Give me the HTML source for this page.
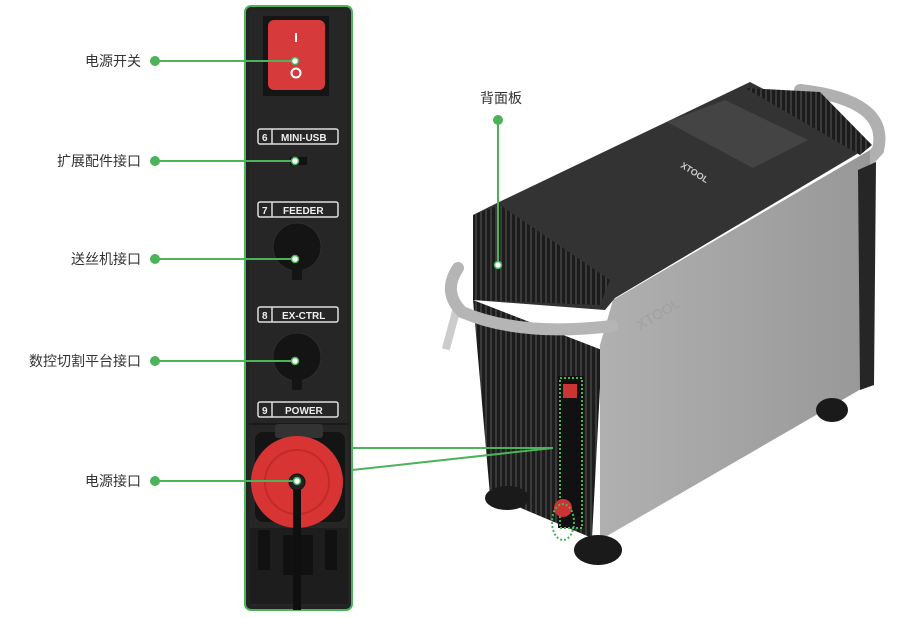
<!DOCTYPE html>
<html><head><meta charset="utf-8"><style>
html,body{margin:0;padding:0;background:#fff;width:898px;height:618px;overflow:hidden}
svg text{font-family:"Liberation Sans","Noto Sans CJK SC",sans-serif;}
</style></head><body>
<svg width="898" height="618" viewBox="0 0 898 618" xmlns="http://www.w3.org/2000/svg">
<defs>
<pattern id="fins" width="5" height="10" patternUnits="userSpaceOnUse">
<rect width="5" height="10" fill="#1c1c1c"/><rect width="2" height="10" fill="#3a3a3a"/>
</pattern>
<linearGradient id="gb" x1="0" y1="0" x2="1" y2="0"><stop offset="0" stop-color="#b0b0b0"/><stop offset="1" stop-color="#989898"/></linearGradient>
</defs>
<!-- left panel -->
<rect x="245" y="6" width="107" height="604" rx="6" fill="#232323" stroke="#4cb35a" stroke-width="2"/>
<rect x="249" y="10" width="99" height="596" rx="4" fill="#262626"/>
<rect x="263" y="16" width="66" height="80" fill="#151515"/>
<rect x="268" y="20" width="57" height="70" rx="6" fill="#d63a3a"/>
<rect x="295" y="33" width="2" height="9" fill="#fff"/>
<circle cx="296" cy="73" r="4.5" fill="none" stroke="#fff" stroke-width="2"/>
<g fill="none" stroke="#ddd" stroke-width="1.5">
<rect x="258" y="129" width="80" height="15" rx="2"/><line x1="272" y1="129" x2="272" y2="144"/>
<rect x="258" y="202" width="80" height="15" rx="2"/><line x1="272" y1="202" x2="272" y2="217"/>
<rect x="258" y="307" width="80" height="15" rx="2"/><line x1="272" y1="307" x2="272" y2="322"/>
<rect x="258" y="402" width="80" height="15" rx="2"/><line x1="272" y1="402" x2="272" y2="417"/>
</g>
<g fill="#eee" font-size="10" font-weight="bold">
<text x="262" y="141">6</text><text x="281" y="141">MINI-USB</text>
<text x="262" y="214">7</text><text x="283" y="214">FEEDER</text>
<text x="262" y="319">8</text><text x="282" y="319">EX-CTRL</text>
<text x="262" y="414">9</text><text x="285" y="414">POWER</text>
</g>
<rect x="290" y="157" width="17" height="8" fill="#111"/>
<circle cx="297" cy="247" r="24" fill="#141414" stroke="#2e2e2e"/>
<rect x="292" y="265" width="10" height="15" rx="2" fill="#141414"/>
<circle cx="297" cy="357" r="24" fill="#141414" stroke="#2e2e2e"/>
<rect x="292" y="375" width="10" height="15" rx="2" fill="#141414"/>
<rect x="249" y="423" width="99" height="2" fill="#1a1a1a"/>
<rect x="255" y="432" width="90" height="90" rx="8" fill="#141414"/>
<rect x="275" y="424" width="48" height="14" rx="3" fill="#333"/>
<circle cx="297" cy="482" r="46" fill="#d93434"/>
<circle cx="297" cy="482" r="32" fill="none" stroke="#c02a2a" stroke-width="2"/>
<rect x="250" y="528" width="98" height="76" fill="#1d1d1d"/>
<g fill="#111"><rect x="258" y="530" width="12" height="40"/><rect x="325" y="530" width="12" height="40"/><rect x="283" y="535" width="30" height="40"/></g>
<rect x="293" y="482" width="8" height="128" fill="#0f0f0f"/>
<circle cx="297" cy="482" r="8" fill="#222" stroke="#111"/>
<!-- machine -->
<path d="M800,90 Q890,100 878,150 L860,170" fill="none" stroke="#b0b0b0" stroke-width="12" stroke-linecap="round"/>
<rect x="447" y="310" width="8" height="40" fill="#ccc" transform="rotate(15 451 330)"/>
<polygon points="473,300 602,350 592,538 490,495" fill="url(#fins)"/>
<polygon points="600,345 613,300 870,150 868,385 600,540" fill="url(#gb)"/>
<polygon points="858,170 876,162 874,385 860,390" fill="#262626"/>
<polygon points="473,215 497,203 750,82 872,145 615,298 605,310 473,300" fill="#333"/>
<polygon points="473,215 500,205 610,280 600,305 473,300" fill="url(#fins)"/>
<polygon points="745,88 820,92 872,145 860,155 800,120" fill="url(#fins)"/>
<polygon points="667,122 725,100 808,140 753,168" fill="#444"/>
<path d="M458,268 Q442,292 462,312 Q520,337 612,326" fill="none" stroke="#b5b5b5" stroke-width="12" stroke-linecap="round"/>
<text x="680" y="167" font-size="9" fill="#ccc" transform="rotate(32 680 167)" font-weight="bold">XTOOL</text>
<text x="640" y="330" font-size="14" fill="#a0a0a0" transform="rotate(-30 640 330)">XTOOL</text>
<rect x="558" y="376" width="26" height="152" fill="#111"/>
<rect x="560" y="378" width="22" height="150" fill="none" stroke="#4cb35a" stroke-width="2" stroke-dasharray="2 2"/>
<rect x="563" y="384" width="14" height="14" fill="#cc3333"/>
<circle cx="563" cy="508" r="9" fill="#cc3333"/>
<ellipse cx="563" cy="522" rx="11" ry="18" fill="none" stroke="#4cb35a" stroke-width="2" stroke-dasharray="2 2"/>
<g fill="#1a1a1a">
<ellipse cx="507" cy="498" rx="22" ry="12"/><ellipse cx="598" cy="550" rx="24" ry="15"/><ellipse cx="832" cy="410" rx="16" ry="12"/>
</g>
<!-- connectors -->
<g stroke="#4cb35a" stroke-width="2" fill="none">
<line x1="155" y1="61" x2="295" y2="61"/>
<line x1="155" y1="161" x2="295" y2="161"/>
<line x1="155" y1="259" x2="295" y2="259"/>
<line x1="155" y1="361" x2="295" y2="361"/>
<line x1="155" y1="481" x2="297" y2="481"/>
<line x1="498" y1="120" x2="498" y2="265"/>
<line x1="352" y1="448" x2="553" y2="448"/>
<line x1="352" y1="470" x2="553" y2="448"/>
</g>
<g fill="#4cb35a">
<circle cx="155" cy="61" r="5"/><circle cx="155" cy="161" r="5"/><circle cx="155" cy="259" r="5"/><circle cx="155" cy="361" r="5"/><circle cx="155" cy="481" r="5"/><circle cx="498" cy="120" r="5"/>
</g>
<g fill="#fff" stroke="#4cb35a" stroke-width="1.5">
<circle cx="295" cy="61" r="3.5"/><circle cx="295" cy="161" r="3.5"/><circle cx="295" cy="259" r="3.5"/><circle cx="295" cy="361" r="3.5"/><circle cx="297" cy="481" r="3.5"/><circle cx="498" cy="265" r="3.5"/>
</g>
<g font-size="14" fill="#333" text-anchor="end">
<text x="141" y="66">电源开关</text>
<text x="141" y="166">扩展配件接口</text>
<text x="141" y="264">送丝机接口</text>
<text x="141" y="366">数控切割平台接口</text>
<text x="141" y="486">电源接口</text>
</g>
<text x="501" y="103" font-size="14" fill="#333" text-anchor="middle">背面板</text>
</svg>
</body></html>
